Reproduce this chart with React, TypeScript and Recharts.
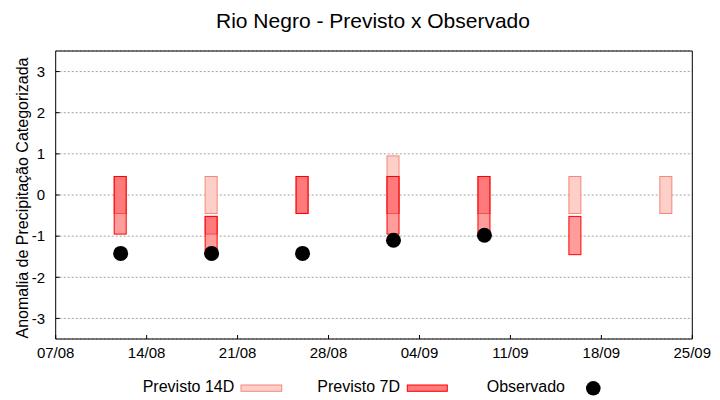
import React from 'react';
import { ComposedChart, Bar, Scatter, XAxis, YAxis, CartesianGrid, ReferenceArea } from 'recharts';

// Axis ticks (days since 07/08)
const tickDays = [0, 7, 14, 21, 28, 35, 42, 49];
const tickLabels = ['07/08', '14/08', '21/08', '28/08', '04/09', '11/09', '18/09', '25/09'];
const yTicks = [-3, -2, -1, 0, 1, 2, 3];

// Forecast dates
const forecastDates = ['12/08', '19/08', '26/08', '02/09', '09/09', '16/09', '23/09'];
const forecastDays = [5, 12, 19, 26, 33, 40, 47];

// Previsto 14D range
const previsto14Low = [null, -0.45, null, -0.45, null, -0.45, -0.45];
const previsto14High = [null, 0.45, null, 0.95, null, 0.45, 0.45];

// Previsto 7D range (full) and core
const previsto7Low = [-0.95, -1.45, -0.45, -0.95, -0.95, -1.45, null];
const previsto7High = [0.45, -0.52, 0.45, 0.45, 0.45, -0.52, null];
const previsto7CoreLow = [-0.45, -0.95, -0.45, -0.45, -0.45, null, null];
const previsto7CoreHigh = [0.45, -0.52, 0.45, 0.45, 0.45, null, null];

// Observado
const observado = [-1.42, -1.42, -1.42, -1.1, -0.98, null, null];

const rng = (lo: number | null, hi: number | null) => (lo == null || hi == null ? null : [lo, hi]);

const data = forecastDays.map((day, i) => ({
  day,
  date: forecastDates[i],
  p14: rng(previsto14Low[i], previsto14High[i]),
  p7: rng(previsto7Low[i], previsto7High[i]),
  p7core: rng(previsto7CoreLow[i], previsto7CoreHigh[i]),
  p7line: rng(previsto7Low[i], previsto7High[i]),
}));

const obsData = forecastDays
  .map((day, i) => ({ day, date: forecastDates[i], obs: observado[i] }))
  .filter((d) => d.obs != null);

const FONT = '"Liberation Sans", Arial, sans-serif';

const makeShape = (key: string, fill: string, stroke: string) => (props: any) => {
  const { x, y, width, height, payload } = props;
  if (!payload || payload[key] == null || !isFinite(y) || !isFinite(height)) return <g />;
  return <rect x={x} y={y} width={width} height={height} fill={fill} stroke={stroke} strokeWidth={1} />;
};

const Dot = (props: any) => {
  const { cx, cy } = props;
  if (!isFinite(cx) || !isFinite(cy)) return <g />;
  return <circle cx={cx} cy={cy} r={7.5} fill="#000" />;
};

const NoTick = () => <g />;

export default function App() {
  return (
    <div style={{ position: 'absolute', left: 0, top: 0, width: 720, height: 400, background: '#fff' }}>
      <ComposedChart
        width={720}
        height={400}
        data={data}
        margin={{ top: 51, right: 27.7, bottom: 31, left: 0 }}
        barSize={12}
        barGap={-12}
      >
        <CartesianGrid vertical={false} stroke="#a0a0a0" strokeDasharray="2 2" />
        <XAxis
          dataKey="day"
          type="number"
          domain={[0, 49]}
          ticks={tickDays}
          tickFormatter={(v: number) => tickLabels[tickDays.indexOf(v)] ?? ''}
          height={30}
          tickSize={-4}
          tickMargin={12}
          axisLine={false}
          tickLine={{ stroke: '#000' }}
          tick={{ fill: '#000', fontSize: 15, fontFamily: FONT }}
          interval={0}
        />
        <YAxis
          type="number"
          domain={[-3.5, 3.5]}
          ticks={yTicks}
          width={55.7}
          tickSize={-4}
          tickMargin={14.5}
          axisLine={false}
          tickLine={{ stroke: '#000' }}
          tick={{ fill: '#000', fontSize: 15, fontFamily: FONT }}
          interval={0}
        />
        <YAxis
          yAxisId="right"
          orientation="right"
          type="number"
          domain={[-3.5, 3.5]}
          ticks={yTicks}
          width={0}
          tickSize={-4}
          axisLine={false}
          tickLine={{ stroke: '#000' }}
          tick={NoTick}
          interval={0}
        />
        <Bar dataKey="p14" isAnimationActive={false} shape={makeShape('p14', '#fdcfc8', '#f4877a')} />
        <Bar dataKey="p7" isAnimationActive={false} shape={makeShape('p7', '#ff9d9d', 'none')} />
        <Bar dataKey="p7core" isAnimationActive={false} shape={makeShape('p7core', '#ff7b7b', '#f05050')} />
        <Bar dataKey="p7line" isAnimationActive={false} shape={makeShape('p7line', 'none', '#ff0000')} />
        <Scatter data={obsData} dataKey="obs" isAnimationActive={false} shape={Dot} />
        <ReferenceArea x1={0} x2={49} y1={-3.5} y2={3.5} fill="none" stroke="#000" strokeWidth={1} ifOverflow="visible" />
      </ComposedChart>
      <svg
        width={720}
        height={400}
        style={{ position: 'absolute', left: 0, top: 0, pointerEvents: 'none' }}
        fontFamily={FONT}
      >
        <text x={373} y={27.5} fontSize={21} textAnchor="middle" fill="#000">
          Rio Negro - Previsto x Observado
        </text>
        <text x={28} y={198} fontSize={16} textAnchor="middle" fill="#000" transform="rotate(-90, 28, 198)">
          Anomalia de Precipitação Categorizada
        </text>
        <text x={142.7} y={392} fontSize={16} fill="#000">Previsto 14D</text>
        <rect x={241} y={385} width={40.7} height={6.3} fill="#fdcfc8" stroke="#f4877a" />
        <text x={317.3} y={392} fontSize={16} fill="#000">Previsto 7D</text>
        <rect x={407.3} y={385} width={40} height={6.3} fill="#ff7b7b" stroke="#ff0000" />
        <text x={486.7} y={392} fontSize={16} fill="#000">Observado</text>
        <circle cx={593.3} cy={388.3} r={7.3} fill="#000" />
      </svg>
    </div>
  );
}
